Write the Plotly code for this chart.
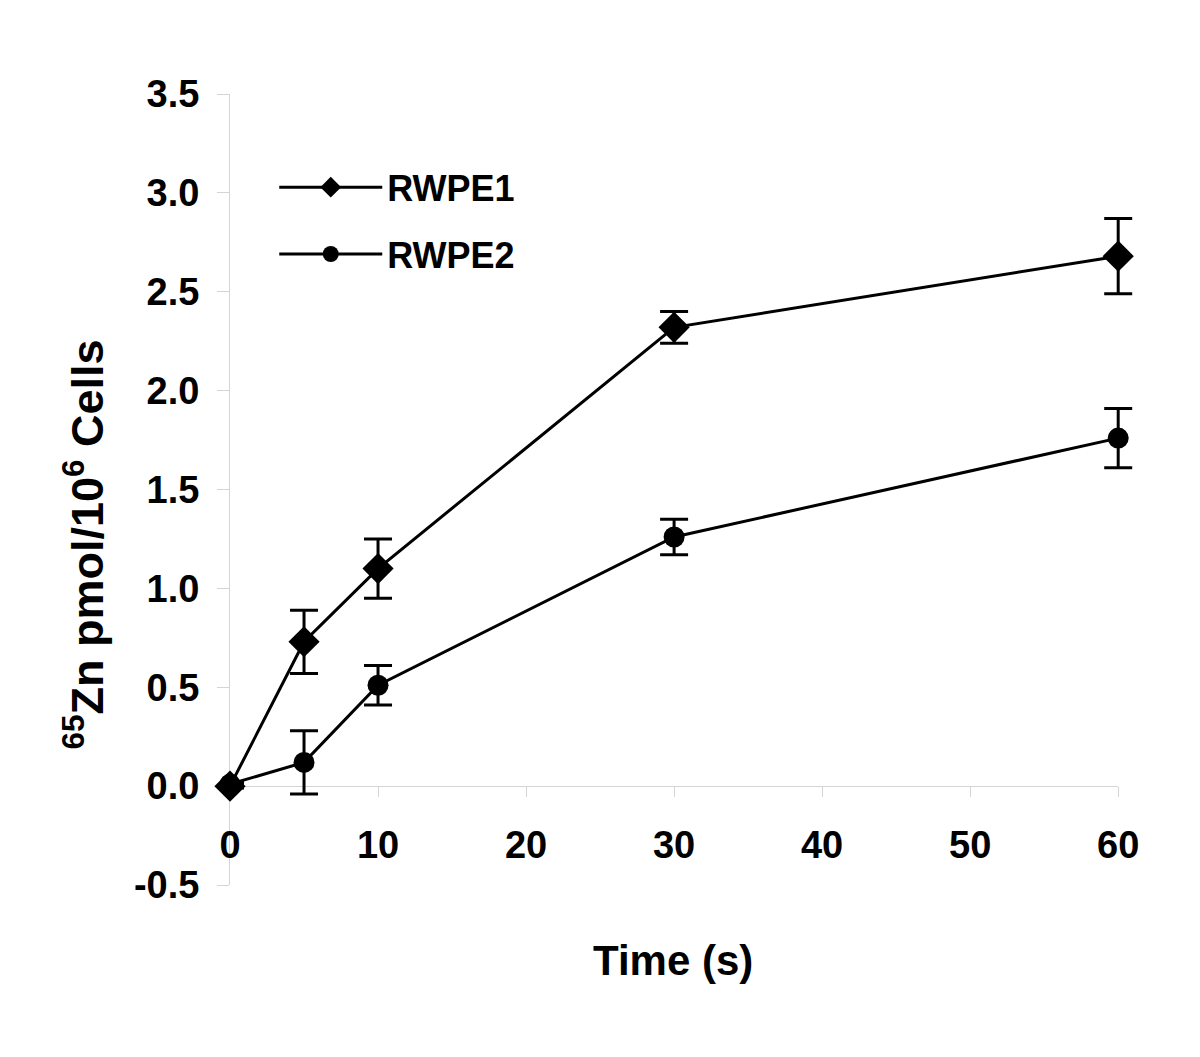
import plotly.graph_objects as go

time_s = [0, 5, 10, 30, 60]
rwpe1 = [0.0, 0.73, 1.10, 2.32, 2.68]
rwpe1_err = [0.01, 0.16, 0.15, 0.08, 0.19]
rwpe2 = [0.01, 0.12, 0.51, 1.26, 1.76]
rwpe2_err = [0.01, 0.16, 0.10, 0.09, 0.15]
x_ticks = [0, 10, 20, 30, 40, 50, 60]
y_ticks = [-0.5, 0.0, 0.5, 1.0, 1.5, 2.0, 2.5, 3.0, 3.5]

X_MAX = 60
X_PAD = 61  # data axis extends a little so error-bar caps at x=60 are not clipped

FONT = "Liberation Sans, Arial, sans-serif"
AXIS_GREY = "#d4d4d4"

fig = go.Figure()
# empty trace so the visible (free-positioned) x axis gets its own subplot drawn
fig.add_trace(go.Scatter(x=[], y=[], xaxis="x", yaxis="y", showlegend=False, hoverinfo="skip"))
fig.add_trace(go.Scatter(
    x=time_s, y=rwpe1, name="RWPE1", mode="lines+markers",
    xaxis="x2", yaxis="y",
    line=dict(color="black", width=3),
    marker=dict(symbol="diamond", size=24, color="black"),
    error_y=dict(type="data", array=rwpe1_err, visible=True, color="black", thickness=3, width=14),
    cliponaxis=False, legendgroup="a",
))
fig.add_trace(go.Scatter(
    x=time_s, y=rwpe2, name="RWPE2", mode="lines+markers",
    xaxis="x2", yaxis="y",
    line=dict(color="black", width=3),
    marker=dict(symbol="circle", size=21, color="black"),
    error_y=dict(type="data", array=rwpe2_err, visible=True, color="black", thickness=3, width=14),
    cliponaxis=False, legendgroup="b",
))

fig.update_layout(
    width=1192, height=1049,
    margin=dict(l=222, r=67, t=86, b=172),
    paper_bgcolor="white", plot_bgcolor="rgba(0,0,0,0)",
    font=dict(family=FONT, color="black", size=38, weight="bold"),
    showlegend=True,
    legend=dict(
        x=0.049, y=0.92, xanchor="left", yanchor="top",
        font=dict(family=FONT, size=36, color="black", weight="bold"),
        itemwidth=103, tracegroupgap=17, bgcolor="rgba(0,0,0,0)",
    ),
    xaxis=dict(
        range=[0, X_MAX], domain=[0, X_MAX / X_PAD],
        tickvals=x_ticks, ticktext=[str(v) for v in x_ticks],
        anchor="free", position=0.125,
        showline=True, linecolor=AXIS_GREY, linewidth=1,
        ticks="outside", ticklen=10, tickcolor=AXIS_GREY, tickwidth=1,
        showgrid=False, zeroline=False,
        tickfont=dict(family=FONT, size=38, color="black", weight="bold"),
        ticklabelstandoff=15,
    ),
    xaxis2=dict(
        range=[0, X_PAD], domain=[0, 1], anchor="y", visible=False,
        showgrid=False, zeroline=False,
    ),
    yaxis=dict(
        range=[-0.5, 3.5], tickvals=y_ticks, ticktext=[f"{v:.1f}" for v in y_ticks],
        anchor="x",
        showline=True, linecolor=AXIS_GREY, linewidth=1,
        ticks="outside", ticklen=12, tickcolor=AXIS_GREY, tickwidth=1,
        showgrid=False, zeroline=False,
        tickfont=dict(family=FONT, size=38, color="black", weight="bold"),
        ticklabelstandoff=10,
    ),
    annotations=[
        dict(text="Time (s)", xref="paper", yref="paper", x=0.4906, y=-0.095,
             xanchor="center", yanchor="middle", showarrow=False,
             font=dict(family=FONT, size=42, color="black", weight="bold")),
        dict(text="<sup>65</sup>Zn pmol/10<sup>6</sup> Cells", xref="paper", yref="paper",
             x=-0.162, y=0.43, xanchor="center", yanchor="middle", textangle=-90,
             showarrow=False,
             font=dict(family=FONT, size=45, color="black", weight="bold")),
    ],
)

fig.write_html("out.html")
